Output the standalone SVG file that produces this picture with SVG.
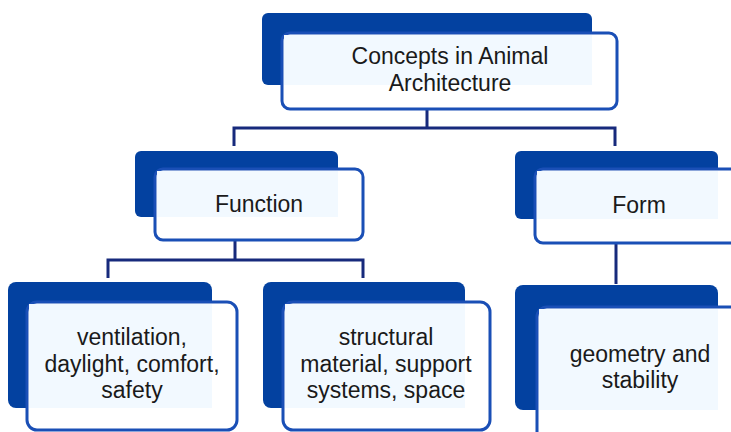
<svg xmlns="http://www.w3.org/2000/svg" width="731" height="432" viewBox="0 0 731 432">
<style>
.back{fill:#0341a0;}
.front{fill:#ffffff;stroke:#1a4fb6;stroke-width:3;}
.tint{fill:#f2f9ff;}
.lbl{font-family:"Liberation Sans",Arial,sans-serif;font-size:23px;fill:#1a1a1a;text-anchor:middle;}
.conn{fill:none;stroke:#172a7c;stroke-width:3;}
</style>
<rect width="731" height="432" fill="#ffffff"/>
<g id="connectors">
<path class="conn" d="M427,109 V128 M234,146 V128 H615 V146"/>
<path class="conn" d="M235,240 V260 M108,278 V260 H363 V278"/>
<path class="conn" d="M616,243 V284"/>
</g>
<g id="root">
<rect class="back" x="262" y="13" width="330" height="72" rx="6"/>
<rect class="front" x="282" y="33" width="335" height="76" rx="8"/>
<rect class="tint" x="284" y="35" width="308" height="50"/>
<text class="lbl" x="450" y="64">Concepts in Animal</text>
<text class="lbl" x="450" y="91">Architecture</text>
</g>
<g id="function">
<rect class="back" x="135" y="151" width="203" height="66" rx="6"/>
<rect class="front" x="155" y="169" width="208" height="71" rx="8"/>
<rect class="tint" x="157" y="171" width="181" height="46"/>
<text class="lbl" x="259" y="212">Function</text>
</g>
<g id="form">
<rect class="back" x="515" y="151" width="203" height="68" rx="6"/>
<rect class="front" x="535" y="169" width="215" height="74" rx="8"/>
<rect class="tint" x="537" y="171" width="181" height="48"/>
<text class="lbl" x="639" y="213">Form</text>
</g>
<g id="ventilation">
<rect class="back" x="8" y="282" width="204" height="126" rx="8"/>
<rect class="front" x="27" y="302" width="210" height="128" rx="10"/>
<rect class="tint" x="29" y="304" width="183" height="104"/>
<text class="lbl" x="132" y="345">ventilation,</text>
<text class="lbl" x="132" y="372">daylight, comfort,</text>
<text class="lbl" x="132" y="398">safety</text>
</g>
<g id="structural">
<rect class="back" x="263" y="282" width="202" height="126" rx="8"/>
<rect class="front" x="283" y="302" width="207" height="128" rx="10"/>
<rect class="tint" x="285" y="304" width="180" height="104"/>
<text class="lbl" x="386" y="345">structural</text>
<text class="lbl" x="386" y="372">material, support</text>
<text class="lbl" x="386" y="398">systems, space</text>
</g>
<g id="geometry">
<rect class="back" x="515" y="285" width="203" height="125" rx="8"/>
<rect class="front" x="537" y="307" width="215" height="140" rx="10"/>
<rect class="tint" x="539" y="309" width="179" height="101"/>
<text class="lbl" x="640" y="362">geometry and</text>
<text class="lbl" x="640" y="388">stability</text>
</g>
</svg>
